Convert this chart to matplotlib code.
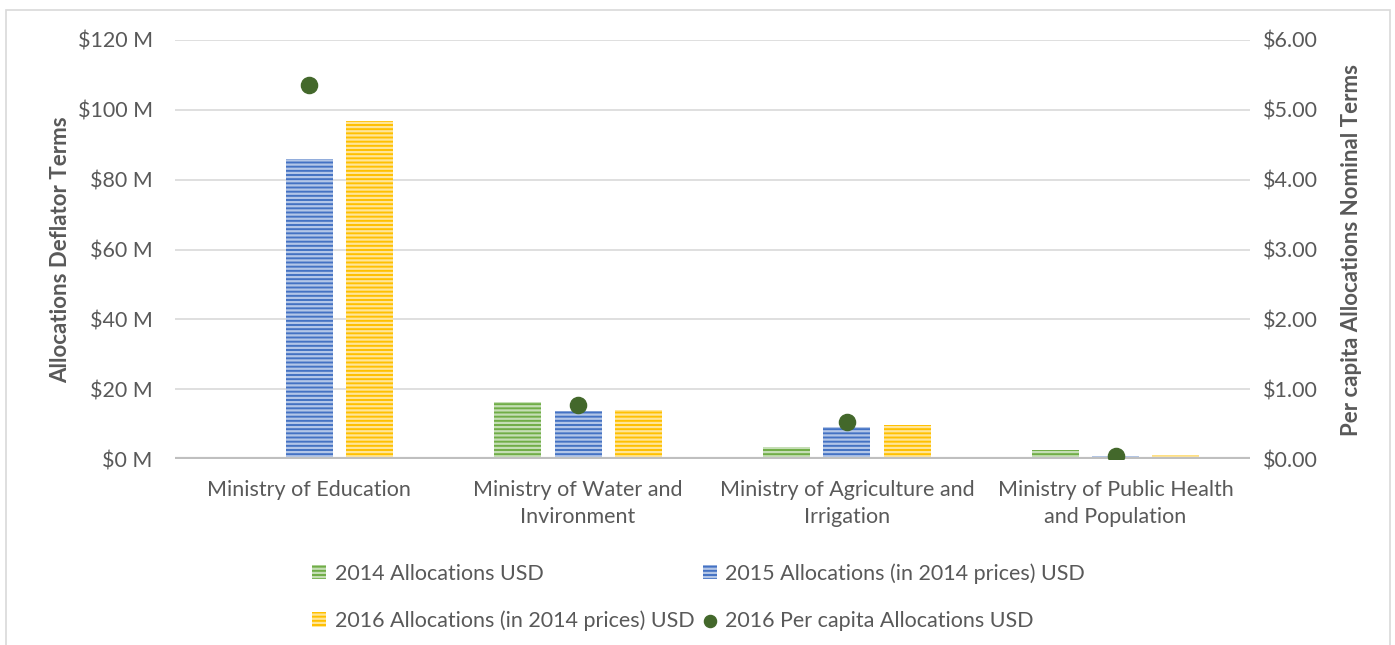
import matplotlib
matplotlib.use("Agg")
import matplotlib.pyplot as plt
import numpy as np
from matplotlib.patches import Rectangle
from matplotlib.ticker import FuncFormatter, MultipleLocator

plt.rcParams['font.family'] = ['Lato', 'DejaVu Sans']
plt.rcParams['hatch.linewidth'] = 1.6

categories = ["Ministry of Education", "Ministry of Water and\nInvironment",
              "Ministry of Agriculture and\nIrrigation", "Ministry of Public Health\nand Population"]
alloc_2014 = [0.0, 16.3, 3.4, 2.6]
alloc_2015 = [86.0, 13.8, 9.2, 0.9]
alloc_2016 = [96.8, 14.0, 9.7, 1.1]
per_capita_2016 = [5.36, 0.77, 0.53, 0.04]

series_names = ["2014 Allocations USD", "2015 Allocations (in 2014 prices) USD",
                "2016 Allocations (in 2014 prices) USD", "2016 Per capita Allocations USD"]
colors = ["#70AD47", "#4472C4", "#FFC000"]
dot_color = "#43682B"
text_color = "#595959"
FS = 15.5

fig = plt.figure(figsize=(13.95, 6.45), dpi=100)
ax = fig.add_axes([175/1395, 1-459/645, (1250-175)/1395, (459-40)/645])
ax2 = ax.twinx()

x = np.arange(len(categories))
w = 0.175
off = 0.224
bars = []
for i, (vals, c) in enumerate(zip([alloc_2014, alloc_2015, alloc_2016], colors)):
    b = ax.bar(x + (i-1)*off, vals, width=w, color=c, edgecolor=(1, 1, 1, 0.6),
               linewidth=0, hatch='----', label=series_names[i], zorder=3)
    bars.append(b)

sc = ax2.scatter(x, per_capita_2016, s=135, color=dot_color, zorder=5, label=series_names[3])

ax.set_xlim(-0.5, len(categories)-0.5)
ax.set_ylim(0, 120)
ax2.set_ylim(0, 6)
ax.yaxis.set_major_locator(MultipleLocator(20))
ax2.yaxis.set_major_locator(MultipleLocator(1))
ax.yaxis.set_major_formatter(FuncFormatter(lambda v, p: f"${v:.0f} M"))
ax2.yaxis.set_major_formatter(FuncFormatter(lambda v, p: f"${v:.2f}"))

ax.grid(axis='y', color='#D9D9D9', linewidth=1.2, zorder=0)
ax.set_axisbelow(True)
for a in (ax, ax2):
    for s in a.spines.values():
        s.set_visible(False)
    a.tick_params(length=0, labelsize=FS, labelcolor=text_color)
ax.axhline(0, color='#BFBFBF', linewidth=3, zorder=4)
ax.tick_params(axis='y', pad=16)
ax2.tick_params(axis='y', pad=9)
ax.set_xticks(x)
ax.set_xticklabels(categories, fontsize=FS, color=text_color, linespacing=1.45)
ax.tick_params(axis='x', pad=15)

ax.set_ylabel("Allocations Deflator Terms", fontsize=16, fontweight='bold', color=text_color, labelpad=5)
ax2.set_ylabel("Per capita Allocations Nominal Terms", fontsize=16, fontweight='bold', color=text_color, labelpad=17)

handles = [bars[0], bars[2], bars[1], sc]
labels = [series_names[0], series_names[2], series_names[1], series_names[3]]
fig.legend(handles, labels, ncol=2, loc='upper left', bbox_to_anchor=(312/1395, 1-563/645),
           frameon=False, fontsize=FS, labelcolor=text_color, handlelength=0.65,
           handleheight=0.65, handletextpad=0.4, columnspacing=0.4, labelspacing=1.25,
           markerscale=0.75, borderpad=0, borderaxespad=0)

fig.patches.append(Rectangle((6/1395, -0.05), (1390-6)/1395, 1.05-10/645,
                             transform=fig.transFigure, fill=False, edgecolor='#D9D9D9',
                             linewidth=1.2, zorder=0))

fig.savefig("out.png", dpi=100)
